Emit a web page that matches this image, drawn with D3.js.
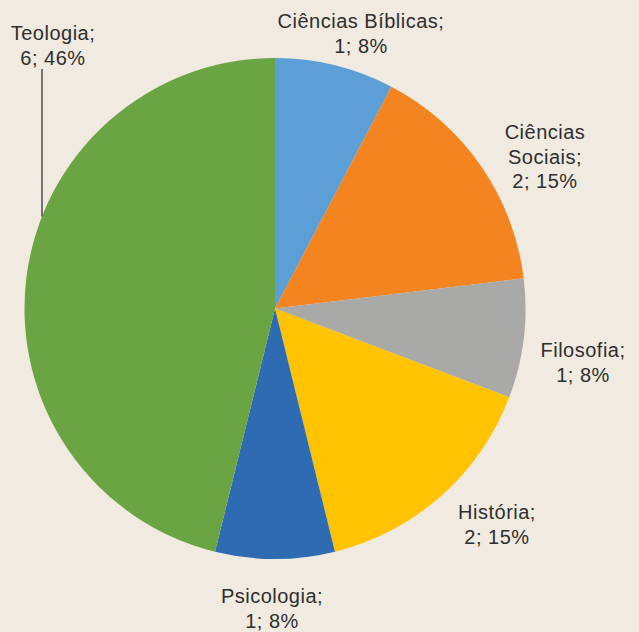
<!DOCTYPE html>
<html>
<head>
<meta charset="utf-8">
<style>
    html, body { margin: 0; padding: 0; background: #f0eae0; }
    svg { display: block; }
    .lbl { font-family: "Liberation Sans", Arial, sans-serif; font-size: 20px; letter-spacing: 0.5px; fill: #2e2e2e; }
</style>
</head>
<body>
<svg></svg>
<script src="https://cdnjs.cloudflare.com/ajax/libs/d3/7.8.5/d3.min.js"></script>
<script>
const width = 639;
const height = 632;

// data
const categories = ["Ciências Bíblicas", "Ciências Sociais", "Filosofia", "História", "Psicologia", "Teologia"];
const counts = [1, 2, 1, 2, 1, 6];
const percents = ["8%", "15%", "8%", "15%", "8%", "46%"];
const colors = ["#5b9fd6", "#f48420", "#a9a9a7", "#ffc300", "#2e6bb3", "#6ba443"];
// label lines (how each label wraps)
const labelLines = [
    ["Ciências Bíblicas;", "1; 8%"],
    ["Ciências", "Sociais;", "2; 15%"],
    ["Filosofia;", "1; 8%"],
    ["História;", "2; 15%"],
    ["Psicologia;", "1; 8%"],
    ["Teologia;", "6; 46%"]
];
// label anchor points (centre x, first baseline y)
const labelPos = [[361, 28], [545, 139], [583, 357], [497, 519], [272, 603], [53, 40]];

const cx = 275, cy = 308.5, r = 250.5;

const svg = d3.select("svg")
    .attr("width", width)
    .attr("height", height);

const pie = d3.pie().sort(null).value(d => d)(counts);
const arc = d3.arc().innerRadius(0).outerRadius(r);

const g = svg.append("g").attr("transform", `translate(${cx},${cy})`);

g.selectAll("path")
    .data(pie)
    .enter().append("path")
    .attr("d", arc)
    .attr("fill", (d, i) => colors[i]);

// leader line for Teologia
const lx = 42;
const ly = cy - Math.sqrt(r * r - (cx - lx) * (cx - lx));
svg.append("line")
    .attr("x1", lx).attr("y1", 69)
    .attr("x2", lx).attr("y2", ly)
    .attr("stroke", "#222")
    .attr("stroke-width", 1.2);

const labels = svg.selectAll("text.lbl")
    .data(categories)
    .enter().append("text")
    .attr("class", "lbl")
    .attr("text-anchor", "middle")
    .attr("x", (d, i) => labelPos[i][0])
    .attr("y", (d, i) => labelPos[i][1]);

labels.each(function(d, i) {
    d3.select(this).selectAll("tspan")
        .data(labelLines[i])
        .enter().append("tspan")
        .attr("x", labelPos[i][0])
        .attr("dy", (t, j) => j === 0 ? 0 : 24.5)
        .text(t => t);
});
</script>
</body>
</html>
